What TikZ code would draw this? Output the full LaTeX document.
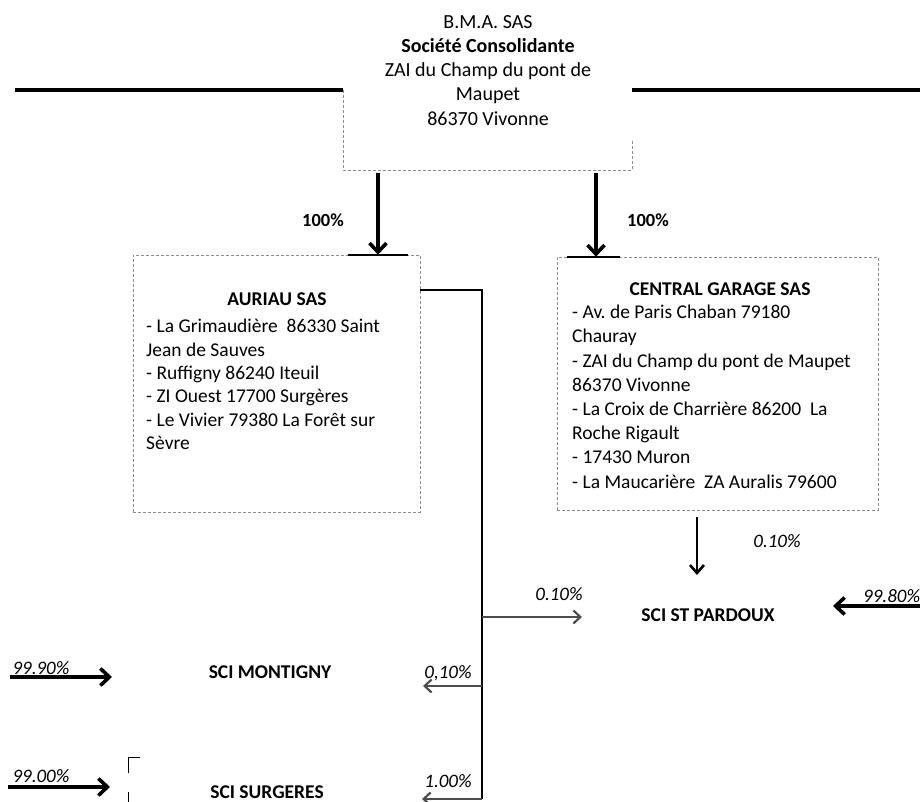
\documentclass[tikz,border=0pt]{standalone}
\usepackage{fontspec}
\setmainfont{Carlito}
\usetikzlibrary{arrows.meta}
\frenchspacing

\tikzset{
  frame/.style={draw=black!45, line width=0.6pt, dash pattern=on 3pt off 2pt, inner sep=0pt},
  entity/.style={font=\fontsize{19.5}{23.4}\selectfont\bfseries, inner sep=0pt},
  addr/.style={font=\fontsize{19.5}{23.4}\selectfont, align=left, inner sep=0pt},
  share/.style={font=\fontsize{19}{22}\selectfont\itshape, inner sep=0pt},
  heavy/.style={line width=3.4pt, -{Straight Barb[length=9pt,width=17pt,line width=3.6pt]}},
  branch/.style={draw=black!70, line width=2pt, -{Straight Barb[length=7pt,width=13pt,line width=2.2pt]}},
}

\begin{document}
\begin{tikzpicture}[x=1pt,y=-1pt]
    \useasboundingbox (0,0) rectangle (920,802);
        % holding company
        \draw[line width=3.5pt] (15,90) -- (343,90);
        \draw[line width=3.5pt] (632,90) -- (920,90);
        \draw[frame] (343,90) -- (343,170) -- (632,170) -- (632,140);
        \node[addr, align=center, anchor=north, font=\fontsize{20}{24.25}\selectfont] (bma) at (488,15)
            {B.M.A. SAS\\\textbf{Société Consolidante}\\ZAI du Champ du pont de\\Maupet\\86370 Vivonne};
        \coordinate (bmaleft) at (378,173);
        \coordinate (bmaright) at (596,173);
        % subsidiaries
        \node[frame, minimum width=287pt, minimum height=257pt] (aurbox) at (276.5,383.5) {};
        \node[entity, anchor=base] (aurhead) at (277,305) {AURIAU SAS};
        \node[addr, anchor=north west] (aurtext) at (146,319)
            {- La Grimaudière \ 86330 Saint\\Jean de Sauves\\- Ruffigny 86240 Iteuil\\- ZI Ouest 17700 Surgères\\- Le Vivier 79380 La Forêt sur\\Sèvre};
        \node[frame, minimum width=321pt, minimum height=253pt] (cgbox) at (717.5,383.5) {};
        \node[entity, anchor=base] (cghead) at (720,295) {CENTRAL GARAGE SAS};
        \node[addr, anchor=north west, font=\fontsize{19.5}{24.2}\selectfont] (cgtext) at (572,305)
            {- Av. de Paris Chaban 79180\\Chauray\\- ZAI du Champ du pont de Maupet\\86370 Vivonne\\- La Croix de Charrière 86200 \ La\\Roche Rigault\\- 17430 Muron\\- La Maucarière \ ZA Auralis 79600};
        \draw[line width=1.2pt] (348,255) -- (408,255);
        \draw[line width=1.2pt] (567,257) -- (620,257);
        \draw[heavy] (bmaleft) -- (bmaleft |- aurbox.north);
        \draw[heavy] (bmaright) -- (bmaright |- cgbox.north);
        \node[entity, font=\fontsize{18.5}{22}\selectfont\bfseries] (pcleft) at (323,220) {100\%};
        \node[entity, font=\fontsize{18.5}{22}\selectfont\bfseries] (pcright) at (648,220) {100\%};
        % SCI companies
        \node[entity, anchor=base] (stpardoux) at (708,621) {SCI ST PARDOUX};
        \node[entity, anchor=base] (montigny) at (270,678) {SCI MONTIGNY};
        \node[entity, anchor=base] (surgeres) at (267,798) {SCI SURGERES};
        \draw[line width=0.8pt] (140,757) -- (128,757) -- (128,773);
        \draw[line width=0.8pt] (128,792) -- (128,802);
        % shares held by AURIAU SAS
        \coordinate (tap) at (482,290);
        \coordinate (tapend) at (482,799);
        \draw[line width=2.6pt] (aurbox.east |- tap) -- (tap) -- (tapend);
        \draw[branch] (tap |- 0,617) -- ++(100,0);
        \draw[branch] (tap |- 0,686) -- ++(-59,0);
        \draw[branch] (tapend) -- ++(-60,0);
        \node[share] (sh1) at (559,594) {0.10\%};
        \node[share] (sh2) at (448,673) {0,10\%};
        \node[share] (sh3) at (448,781) {1.00\%};
        % other shares
        \coordinate (cgdown) at (697,517);
        \draw[line width=2.4pt, -{Straight Barb[length=8pt,width=14pt,line width=2.6pt]}] (cgdown) -- ++(0,58);
        \node[share] (sh4) at (777,541) {0.10\%};
        \coordinate (outright) at (920,606);
        \draw[heavy] (outright) -- ++(-87,0);
        \node[share, anchor=west] (sh5) at (863,596) {99.80\%};
        \coordinate (outmont) at (10,677);
        \draw[heavy] (outmont) -- ++(102,0);
        \node[share] (sh6) at (41,668) {99.90\%};
        \coordinate (outsurg) at (8,787);
        \draw[heavy] (outsurg) -- ++(102,0);
        \node[share] (sh7) at (41,776) {99.00\%};
    \end{tikzpicture}
\end{document}
